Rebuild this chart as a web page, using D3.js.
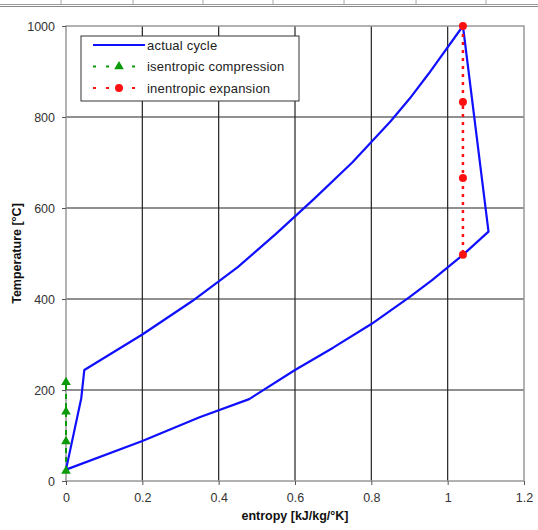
<!DOCTYPE html>
<html>
<head>
<meta charset="utf-8">
<script src="https://cdn.jsdelivr.net/npm/d3@7"></script>
<style>
    body { margin: 0; background: #fff; }
    svg { display: block; font-family: "Liberation Sans", Arial, sans-serif; }
</style>
</head>
<body>
<div id="chart"></div>
<script>
// Axis ticks
const xTicks = [0, 0.2, 0.4, 0.6, 0.8, 1, 1.2];
const yTicks = [0, 200, 400, 600, 800, 1000];

// Actual cycle (closed loop), entropy and temperature
const cycleS = [0, 0.04, 0.048, 0.2, 0.33, 0.45, 0.55, 0.65, 0.75, 0.85, 0.9, 0.95, 1.04,
                1.107, 1.04, 0.96, 0.9, 0.8, 0.7, 0.6, 0.48, 0.35, 0.2, 0];
const cycleT = [25, 182, 244, 322, 395, 470, 543, 620, 700, 790, 840, 895, 1000,
                548, 497, 442, 404, 345, 293, 244, 180, 140, 88, 25];

// Isentropic compression
const compS = [0, 0, 0, 0];
const compT = [22, 87, 152, 217];

// Isentropic expansion
const expS = [1.04, 1.04, 1.04, 1.04];
const expT = [1000, 833, 666, 497];

const legendLabels = ["actual cycle", "isentropic compression", "inentropic expansion"];

const W = 538, H = 530;
const margin = {top: 26, right: 14, bottom: 49, left: 66};

const svg = d3.select("#chart").append("svg")
    .attr("width", W)
    .attr("height", H);

// Spreadsheet cell borders at the top edge
[61, 133, 203, 273, 344, 416, 486].forEach(function(cx) {
    svg.append("line")
        .attr("x1", cx).attr("x2", cx)
        .attr("y1", 0).attr("y2", 4)
        .attr("stroke", "#aaa");
});
svg.append("line").attr("x1", 0).attr("x2", W).attr("y1", 4.5).attr("y2", 4.5)
    .attr("stroke", "#999").attr("stroke-width", 1);
svg.append("line").attr("x1", 0).attr("x2", W).attr("y1", 6.5).attr("y2", 6.5)
    .attr("stroke", "#888").attr("stroke-width", 1);

// Scales
const x = d3.scaleLinear().domain([0, 1.2]).range([margin.left, W - margin.right]);
const y = d3.scaleLinear().domain([0, 1000]).range([H - margin.bottom, margin.top]);

// Grid lines
svg.append("g")
    .selectAll("line")
    .data(xTicks.slice(1, -1))
    .enter()
    .append("line")
    .attr("x1", (d) => x(d)).attr("x2", (d) => x(d))
    .attr("y1", y(0)).attr("y2", y(1000))
    .attr("stroke", "#222")
    .attr("stroke-width", 1.2);

svg.append("g")
    .selectAll("line")
    .data(yTicks.slice(1, -1))
    .enter()
    .append("line")
    .attr("x1", x(0)).attr("x2", x(1.2))
    .attr("y1", (d) => y(d)).attr("y2", (d) => y(d))
    .attr("stroke", "#222")
    .attr("stroke-width", 1.2);

// Plot frame
svg.append("rect")
    .attr("x", x(0)).attr("y", y(1000))
    .attr("width", x(1.2) - x(0))
    .attr("height", y(0) - y(1000))
    .attr("fill", "none")
    .attr("stroke", "#999")
    .attr("stroke-width", 1.5);

// Y axis
const yAxis = svg.append("g")
    .attr("transform", `translate(${x(0)},0)`)
    .call(d3.axisLeft(y).tickValues(yTicks).tickSize(4).tickPadding(7).tickFormat(d3.format("d")));
yAxis.select(".domain").remove();
yAxis.selectAll("line").attr("stroke", "#555");
yAxis.selectAll("text")
    .attr("fill", "#333")
    .style("font-size", "12.5px")
    .style("font-family", "Liberation Sans, Arial, sans-serif");

// X axis
const xAxis = svg.append("g")
    .attr("transform", `translate(0,${y(0)})`)
    .call(d3.axisBottom(x).tickValues(xTicks).tickSize(4).tickPadding(8).tickFormat((d) => String(d)));
xAxis.select(".domain").remove();
xAxis.selectAll("line").attr("stroke", "#555");
xAxis.selectAll("text")
    .attr("fill", "#333")
    .style("font-size", "12.5px")
    .style("font-family", "Liberation Sans, Arial, sans-serif");

// Axis titles
svg.append("text")
    .attr("x", (x(0) + x(1.2)) / 2)
    .attr("y", 520)
    .attr("text-anchor", "middle")
    .style("font-size", "12.5px")
    .style("font-weight", 700)
    .attr("fill", "#111")
    .text("entropy [kJ/kg/°K]");

svg.append("text")
    .attr("transform", `translate(21,${(y(0) + y(1000)) / 2}) rotate(-90)`)
    .attr("text-anchor", "middle")
    .style("font-size", "12.5px")
    .style("font-weight", 700)
    .attr("fill", "#111")
    .text("Temperature [°C]");

// Actual cycle line
const cycle = cycleS.map((s, i) => [s, cycleT[i]]);
const line = d3.line().x((d) => x(d[0])).y((d) => y(d[1]));

svg.append("path")
    .datum(cycle)
    .attr("d", line)
    .attr("fill", "none")
    .attr("stroke", "#1010ff")
    .attr("stroke-width", 2.2)
    .attr("stroke-linejoin", "round");

// Isentropic compression
const comp = compS.map((s, i) => [s, compT[i]]);
svg.append("path")
    .datum(comp)
    .attr("d", line)
    .attr("fill", "none")
    .attr("stroke", "#0a9a0a")
    .attr("stroke-width", 2)
    .attr("stroke-dasharray", "5,4");

const tri = d3.symbol().type(d3.symbolTriangle).size(40);
svg.selectAll(".comp-pt")
    .data(comp)
    .enter()
    .append("path")
    .attr("class", "comp-pt")
    .attr("d", tri)
    .attr("transform", (d) => `translate(${x(d[0])},${y(d[1])})`)
    .attr("fill", "#0a9a0a");

// Isentropic expansion
const exp = expS.map((s, i) => [s, expT[i]]);
svg.append("path")
    .datum(exp)
    .attr("d", line)
    .attr("fill", "none")
    .attr("stroke", "#ff1010")
    .attr("stroke-width", 2.5)
    .attr("stroke-dasharray", "3,5");

svg.selectAll(".exp-pt")
    .data(exp)
    .enter()
    .append("circle")
    .attr("class", "exp-pt")
    .attr("cx", (d) => x(d[0]))
    .attr("cy", (d) => y(d[1]))
    .attr("r", 4)
    .attr("fill", "#ff1010");

// Legend
const legend = svg.append("g").attr("transform", "translate(81,36)");
legend.append("rect")
    .attr("width", 218)
    .attr("height", 65)
    .attr("fill", "#fff")
    .attr("stroke", "#333")
    .attr("stroke-width", 1);

const rows = legend.selectAll(".legend")
    .data(legendLabels)
    .enter()
    .append("g")
    .attr("class", "legend")
    .attr("transform", (d, i) => `translate(0,${9 + i * 21.5})`);

rows.append("line")
    .attr("x1", 12).attr("x2", 64)
    .attr("y1", 0).attr("y2", 0)
    .attr("stroke", (d, i) => ["#1010ff", "#0a9a0a", "#ff1010"][i])
    .attr("stroke-width", (d, i) => i == 0 ? 2.2 : 2)
    .attr("stroke-dasharray", (d, i) => i == 0 ? null : "3,10");

rows.filter((d, i) => i == 1)
    .append("path")
    .attr("d", tri)
    .attr("transform", "translate(38,0)")
    .attr("fill", "#0a9a0a");

rows.filter((d, i) => i == 2)
    .append("circle")
    .attr("cx", 38).attr("r", 4)
    .attr("fill", "#ff1010");

rows.append("text")
    .attr("x", 66)
    .attr("y", 4.5)
    .style("font-size", "13px")
    .style("letter-spacing", "0.2px")
    .attr("fill", "#222")
    .text((d) => d);
</script>
</body>
</html>
